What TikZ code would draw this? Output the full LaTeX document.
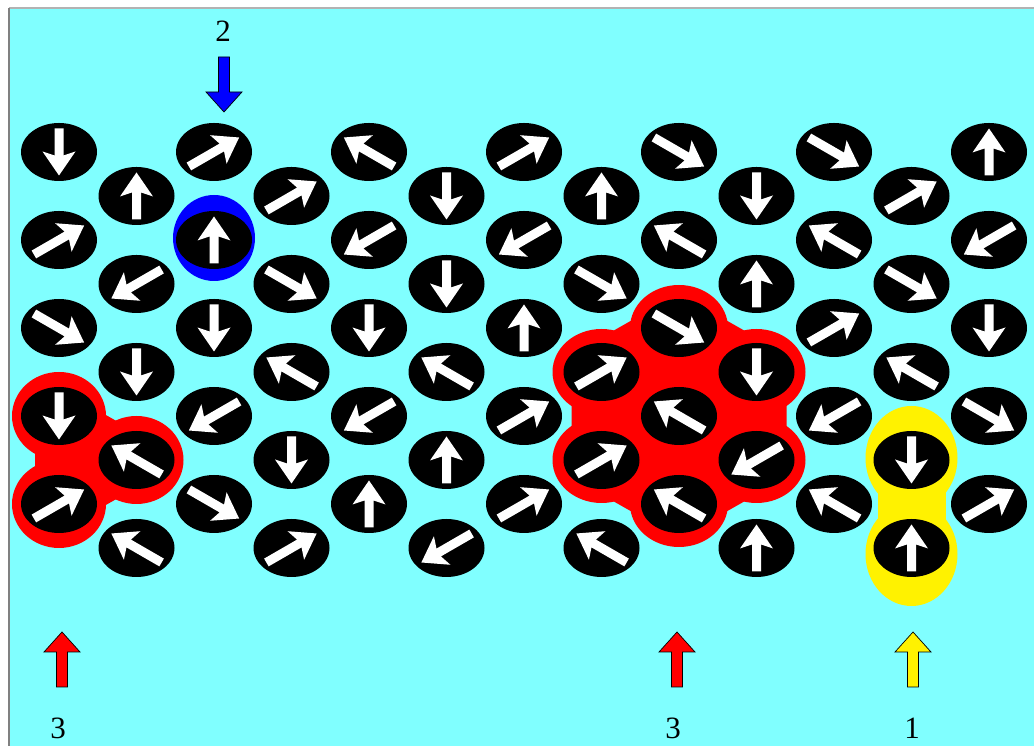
\documentclass[tikz,border=0pt]{standalone}
\usepackage{fontspec}
\setmainfont{Liberation Serif}
\usetikzlibrary{shapes.geometric,backgrounds}
\definecolor{sea}{RGB}{128,255,255}
% coloured marker arrow: colour, tip, rotation
\newcommand{\tagarrow}[3]{%
  \filldraw[fill=#1, draw=black, line width=0.7pt, shift={(#2)}, rotate=#3]
    (0,0) -- (18,-20) -- (5.5,-20) -- (5.5,-55) -- (-5.5,-55) -- (-5.5,-20) -- (-18,-20) -- cycle;}

\begin{document}
\begin{tikzpicture}[
  x=1pt, y=1pt,
  disc/.style={ellipse, fill=black, inner sep=0pt, minimum width=76pt, minimum height=58pt},
  num/.style={font=\fontsize{31}{33}\selectfont, inner sep=0pt}
]
\useasboundingbox (0,0) rectangle (1034,746);

% spins, one list per column, top to bottom
\foreach \col/\dirs in {0/{270,30,330,270,30}, 1/{90,210,270,150,150},
    2/{30,90,270,210,330}, 3/{30,330,150,270,30}, 4/{150,210,270,210,90},
    5/{270,270,150,90,210}, 6/{30,210,90,30,30}, 7/{90,330,30,30,150},
    8/{330,150,330,150,150}, 9/{270,90,270,210,90}, 10/{330,150,30,210,150},
    11/{30,330,150,270,90}, 12/{90,210,270,330,30}}{
  \foreach \a [count=\row from 0] in \dirs {
    \pgfmathsetmacro{\px}{59+77.5*\col}
    \pgfmathsetmacro{\py}{594-44*mod(\col,2)-88*\row}
    \pgfmathsetmacro{\len}{ifthenelse(mod(\a,180)==90,47,58)}
    \node[disc] (s-\col-\row) at (\px,\py) {};
    \fill[white, shift={(s-\col-\row.center)}, rotate=\a]
      (-\len/2,-4.5) -- (\len/2-20,-4.5) -- (\len/2-24,-16.5) -- (\len/2,0)
      -- (\len/2-24,16.5) -- (\len/2-20,4.5) -- (-\len/2,4.5) -- cycle;
  }
}

\begin{pgfonlayer}{background}
  \fill[sea] (9,0) rectangle (1034,738);
  \draw[gray!60, line width=1.5pt] (9,738) -- (1034,738);
  \draw[gray, line width=1.5pt] (9,0) -- (9,738);
  % red cluster, left
  \foreach \s in {s-0-3,s-1-3,s-0-4}
    \fill[red] (\s.center) ellipse [x radius=47pt, y radius=44pt];
  \filldraw[red, line width=48pt, line join=round]
    (s-0-3.center) -- (s-1-3.center) -- (s-0-4.center) -- cycle;
  % red cluster, middle
  \foreach \s in {s-8-2,s-9-2,s-9-3,s-8-4,s-7-3,s-7-2}
    \fill[red] (\s.center) ellipse [x radius=49pt, y radius=43pt];
  \filldraw[red, line width=60pt, line join=round]
    (s-8-2.center) -- (s-9-2.center) -- (s-9-3.center) -- (s-8-4.center)
    -- (s-7-3.center) -- (s-7-2.center) -- cycle;
  % yellow pair
  \fill[yellow] ([yshift=2pt]s-11-3.center) ellipse [x radius=46pt, y radius=52pt];
  \fill[yellow] ([yshift=-6pt]s-11-4.center) ellipse [x radius=46pt, y radius=52pt];
  \draw[yellow, line width=68pt] (s-11-3.center) -- (s-11-4.center);
  % blue single
  \fill[blue] ([yshift=2pt]s-2-1.center) ellipse [x radius=41pt, y radius=43pt];
\end{pgfonlayer}

% markers
\node[num] (n-top) at (223,715) {2};
\node[num] (n-left) at (58,18) {3};
\node[num] (n-mid) at (673,18) {3};
\node[num] (n-right) at (912,18) {1};
\coordinate (t-top) at (224,634);
\coordinate (t-left) at (62,114);
\coordinate (t-mid) at (677,114);
\coordinate (t-right) at (913,114);
\tagarrow{blue}{t-top}{180}
\tagarrow{red}{t-left}{0}
\tagarrow{red}{t-mid}{0}
\tagarrow{yellow}{t-right}{0}
\end{tikzpicture}
\end{document}
